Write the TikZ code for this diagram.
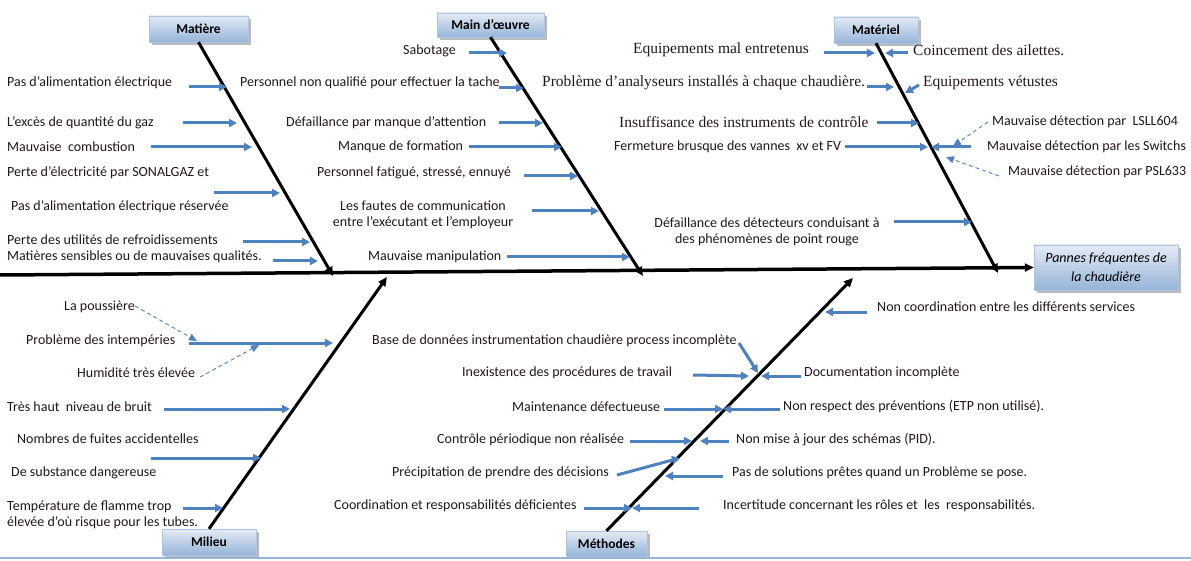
\documentclass[tikz,border=0pt]{standalone}
\usepackage{fontspec}
\setmainfont{Carlito}
\newfontfamily\tnr{Liberation Serif}
\usetikzlibrary{arrows.meta,shadows}

\definecolor{causeblue}{RGB}{79,129,189}
\definecolor{boxtop}{RGB}{228,235,245}
\definecolor{boxbottom}{RGB}{150,180,216}
\definecolor{boxborder}{RGB}{170,195,225}
\definecolor{txt}{RGB}{35,22,30}

\tikzset{
	cause/.style = {causeblue, line width = 3pt, -{Triangle[length = 8pt, width = 8pt]}},
	subcause/.style = {causeblue, line width = 0.9pt, dash pattern = on 4pt off 3pt, -{Triangle[length = 8pt, width = 7pt]}},
	bone/.style = {black, line width = 3pt, -{Triangle[length = 9pt, width = 8pt]}},
	causetext/.style = {anchor = west, inner sep = 0pt, text = txt, font = \fontsize{14}{16.5}\selectfont},
	tnrtext/.style = {causetext, font = \tnr\fontsize{15.5}{17}\selectfont},
	catbox/.style = {draw = boxborder, top color = boxtop, bottom color = boxbottom, inner sep = 0pt,
		drop shadow = {shadow xshift = 3pt, shadow yshift = -3pt, fill = black!45, opacity = .6},
		font = \bfseries\fontsize{13.5}{15}\selectfont}
}

\begin{document}
\begin{tikzpicture}[x = 1pt, y = -1pt]
	\useasboundingbox (0, 0) rectangle (1191, 561);
	\fill[white] (0, 0) rectangle (1191, 561);
	
	% category boxes and effect box
	\node[catbox, minimum width = 99pt, minimum height = 26pt] (matiere) at (198.5, 29) {Matière};
	\node[catbox, minimum width = 107pt, minimum height = 24pt] (mainoeuvre) at (490.5, 25) {Main d’œuvre};
	\node[catbox, minimum width = 84pt, minimum height = 26pt] (materiel) at (876, 30) {Matériel};
	\node[catbox, minimum width = 94pt, minimum height = 26pt] (milieu) at (209, 542) {Milieu};
	\node[catbox, minimum width = 81pt, minimum height = 25pt] (methodes) at (606.5, 543.5) {Méthodes};
	\node[catbox, minimum width = 144pt, minimum height = 45pt, align = center,
		font = \itshape\fontsize{14}{19}\selectfont] (pannes) at (1106, 267.5) {Pannes fréquentes de\\la chaudière};
	
	% spine and bones
	\coordinate (tail) at (0, 275);
	\draw[bone, line width = 3.5pt] (tail) -- (pannes.west);
	\coordinate (matiere-end) at (333, 276);
	\coordinate (mainoeuvre-end) at (643, 276);
	\coordinate (materiel-end) at (998, 273);
	\coordinate (milieu-end) at (387, 277);
	\coordinate (methodes-end) at (853, 278);
	\draw[bone] (matiere.south) -- (matiere-end);
	\draw[bone] (mainoeuvre.south) -- (mainoeuvre-end);
	\draw[bone] (materiel.south) -- (materiel-end);
	\draw[bone] (milieu.north) -- (milieu-end);
	\draw[bone] (methodes.north) -- (methodes-end);
	
	% cause arrows
	\foreach \n/\xa/\ya/\xb/\yb in {m1/189/87/227/87, m2/183/123/237/123, m3/151/147/252/147,
		m4/214/193/280/193, m5/243/242/310/242, m6/273/261/318/261,
		a1/469/53/507/53, a2/499/88/524/88, a3/499/123/543/123, a4/469/147/562/147,
		a5/524/176/578/176, a6/532/211/599/211, a7/507/257/630/257,
		t1/824/53/875/53, t1r/908/53/885/53, t2/867/87/894/87, t2r/919/85/905/93,
		t3/877/123/919/123, t4/845/147/928/147, t4r/971/147/931/147, t5/894/222/972/222,
		l1/189/343/333/343, l2/164/409/290/409, l3/151/458/261/458, l4/183/508/223/508,
		e1/739/343/758/373, e2/693/375/749/376, e2r/801/376/761/376,
		e3/664/409/723/409, e3r/780/409/723/409, e4/630/441/692/441, e4r/729/441/700/441,
		e5/617/475/680/458, e5r/723/476/665/476, e6/584/508/632/508, e6r/699/508/632/508,
		e7/867/312/825/312}
	{
		\coordinate (\n-from) at (\xa, \ya);
		\coordinate (\n-to) at (\xb, \yb);
		\draw[cause] (\n-from) -- (\n-to);
	}
	
	% dashed sub-causes
	\foreach \n/\xa/\ya/\xb/\yb in {d1/988/122/953/146, d2/999/176/946/157,
		d3/135/306/197/341, d4/200/377/259/345}
	{
		\coordinate (\n-from) at (\xa, \ya);
		\coordinate (\n-to) at (\xb, \yb);
		\draw[subcause] (\n-from) -- (\n-to);
	}
	
	% Matiere
	\node[causetext] (m1-text) at (7, 83) {Pas d’alimentation électrique};
	\node[causetext] (m2-text) at (7, 123) {L’excès de quantité du gaz};
	\node[causetext] (m3-text) at (7, 147) {Mauvaise\ \ combustion};
	\node[causetext] (m4-text) at (7, 173) {Perte d’électricité par SONALGAZ et};
	\node[causetext] (m4b-text) at (11, 207) {Pas d’alimentation électrique réservée};
	\node[causetext] (m5-text) at (7, 240) {Perte des utilités de refroidissements};
	\node[causetext] (m6-text) at (7, 257) {Matières sensibles ou de mauvaises qualités.};
	
	% Main d'oeuvre
	\node[causetext] (a1-text) at (403, 51) {Sabotage};
	\node[causetext] (a2-text) at (240, 83) {Personnel non qualifié pour effectuer la tache};
	\node[causetext] (a3-text) at (286, 123) {Défaillance par manque d’attention};
	\node[causetext] (a4-text) at (338, 147) {Manque de formation};
	\node[causetext] (a5-text) at (317, 173) {Personnel fatigué, stressé, ennuyé};
	\node[causetext, anchor = center, align = center] (a6-text) at (423, 215) {Les fautes de communication\\entre l’exécutant et l’employeur};
	\node[causetext] (a7-text) at (368, 257) {Mauvaise manipulation};
	
	% Materiel
	\node[tnrtext] (t1-text) at (633, 50) {Equipements mal entretenus};
	\node[tnrtext] (t1r-text) at (913, 50) {Coincement des ailettes.};
	\node[tnrtext] (t2-text) at (542, 83) {Problème d’analyseurs installés à chaque chaudière.};
	\node[tnrtext] (t2r-text) at (923, 83) {Equipements vétustes};
	\node[tnrtext] (t3-text) at (619, 122) {Insuffisance des instruments de contrôle};
	\node[causetext] (t4-text) at (614, 147) {Fermeture brusque des vannes\ \ xv et FV};
	\node[causetext] (d1-text) at (992, 122) {Mauvaise détection par\ \ LSLL604};
	\node[causetext] (t4r-text) at (987, 147) {Mauvaise détection par les Switchs};
	\node[causetext] (d2-text) at (1008, 172) {Mauvaise détection par PSL633};
	\node[causetext, anchor = center, align = center] (t5-text) at (767, 232) {Défaillance des détecteurs conduisant à\\des phénomènes de point rouge};
	
	% Milieu
	\node[causetext] (d3-text) at (64, 307) {La poussière};
	\node[causetext] (l1-text) at (26, 341) {Problème des intempéries};
	\node[causetext] (d4-text) at (77, 373) {Humidité très élevée};
	\node[causetext] (l2-text) at (7, 407) {Très haut\ \ niveau de bruit};
	\node[causetext] (l3-text) at (17, 439) {Nombres de fuites accidentelles};
	\node[causetext] (l3b-text) at (11, 473) {De substance dangereuse};
	\node[causetext, align = left] (l4-text) at (7, 515) {Température de flamme trop\\élevée d’où risque pour les tubes.};
	
	% Methodes
	\node[causetext] (e1-text) at (372, 341) {Base de données instrumentation chaudière process incomplète};
	\node[causetext] (e2-text) at (462, 373) {Inexistence des procédures de travail};
	\node[causetext] (e2r-text) at (804, 373) {Documentation incomplète};
	\node[causetext] (e3-text) at (512, 407) {Maintenance défectueuse};
	\node[causetext] (e3r-text) at (783, 407) {Non respect des préventions (ETP non utilisé).};
	\node[causetext] (e4-text) at (437, 440) {Contrôle périodique non réalisée};
	\node[causetext] (e4r-text) at (736, 440) {Non mise à jour des schémas (PID).};
	\node[causetext] (e5-text) at (392, 473) {Précipitation de prendre des décisions};
	\node[causetext] (e5r-text) at (732, 473) {Pas de solutions prêtes quand un Problème se pose.};
	\node[causetext] (e6-text) at (334, 506) {Coordination et responsabilités déficientes};
	\node[causetext] (e6r-text) at (723, 506) {Incertitude concernant les rôles et\ \ les\ \ responsabilités.};
	\node[causetext] (e7-text) at (877, 307) {Non coordination entre les différents services};
	
	% page edge
	\coordinate (edge-left) at (0, 558);
	\coordinate (edge-right) at (1191, 558);
	\draw[boxbottom, line width = 1.5pt] (edge-left) -- (edge-right);
\end{tikzpicture}
\end{document}
